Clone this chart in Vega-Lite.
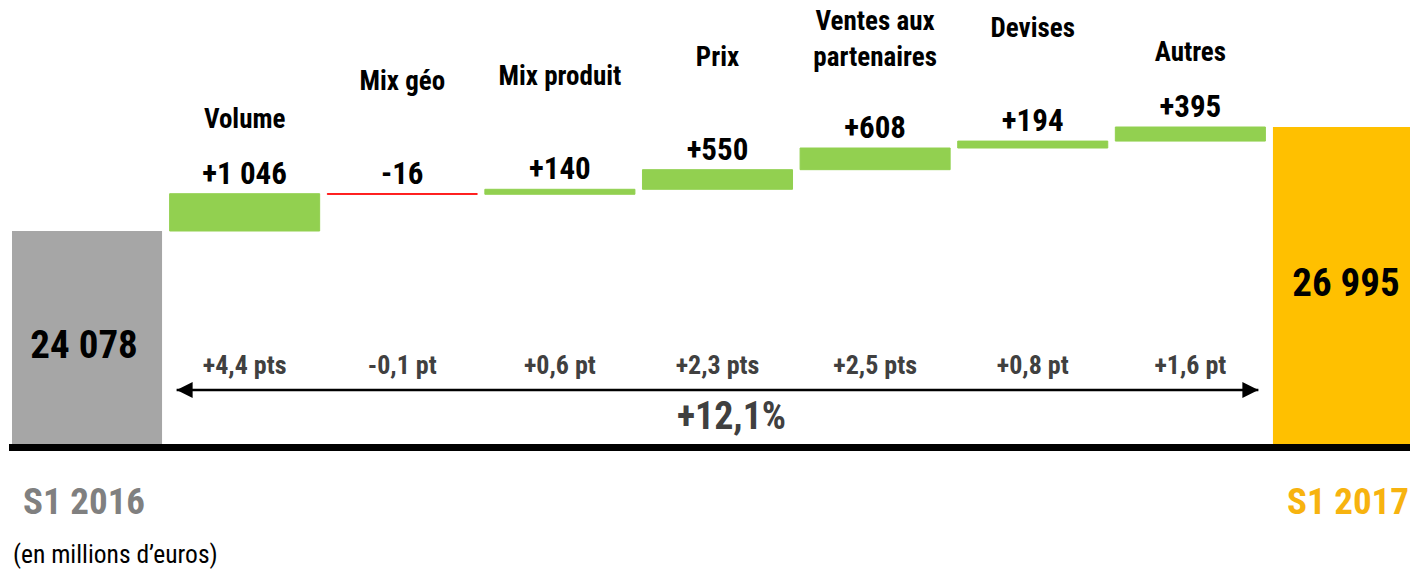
{
  "$schema": "https://vega.github.io/schema/vega-lite/v6.json",
  "width": 1410,
  "height": 572,
  "autosize": "none",
  "padding": 0,
  "background": "white",
  "config": {"view": {"stroke": null}, "font": "Roboto Condensed, Liberation Sans Narrow, DejaVu Sans Condensed, Liberation Sans"},
  "datasets": {
    "totals": [
      {"cat": "S1 2016", "value": 24078, "label": "24 078", "kind": "start"},
      {"cat": "S1 2017", "value": 26995, "label": "26 995", "kind": "end"}
    ],
    "steps": [
      {"cat": "Volume", "name": ["Volume"], "start": 24078, "end": 25124, "label": "+1 046", "pct": "+4,4 pts", "kind": "up", "row": "low"},
      {"cat": "Mix géo", "name": ["Mix géo"], "start": 25124, "end": 25108, "label": "-16", "pct": "-0,1 pt", "kind": "down", "row": "high"},
      {"cat": "Mix produit", "name": ["Mix produit"], "start": 25108, "end": 25248, "label": "+140", "pct": "+0,6 pt", "kind": "up", "row": "high"},
      {"cat": "Prix", "name": ["Prix"], "start": 25248, "end": 25798, "label": "+550", "pct": "+2,3 pts", "kind": "up", "row": "high"},
      {"cat": "Ventes aux partenaires", "name": ["Ventes aux", "partenaires"], "start": 25798, "end": 26406, "label": "+608", "pct": "+2,5 pts", "kind": "up", "row": "double"},
      {"cat": "Devises", "name": ["Devises"], "start": 26406, "end": 26600, "label": "+194", "pct": "+0,8 pt", "kind": "up", "row": "high"},
      {"cat": "Autres", "name": ["Autres"], "start": 26600, "end": 26995, "label": "+395", "pct": "+1,6 pt", "kind": "up", "row": "low"}
    ]
  },
  "layer": [
    {
      "data": {"name": "totals"},
      "mark": {"type": "bar"},
      "encoding": {
        "x": {"field": "cat", "type": "nominal", "axis": null, "sort": null,
              "scale": {"domain": ["S1 2016", "Volume", "Mix géo", "Mix produit", "Prix", "Ventes aux partenaires", "Devises", "Autres", "S1 2017"],
                        "range": [12, 1423], "paddingInner": 0.048, "paddingOuter": 0}},
        "y": {"field": "value", "type": "quantitative", "axis": null, "scale": {"domain": [14514, 30557], "nice": false, "zero": false}},
        "y2": {"datum": 18100},
        "color": {"field": "kind", "type": "nominal", "legend": null,
                  "scale": {"domain": ["start", "up", "down", "end"], "range": ["#A6A6A6", "#92D050", "#FF0000", "#FFC000"]}}
      }
    },
    {
      "data": {"name": "steps"},
      "mark": {"type": "bar", "strokeWidth": 1},
      "encoding": {
        "x": {"field": "cat", "type": "nominal"},
        "y": {"field": "start", "type": "quantitative"},
        "y2": {"field": "end"},
        "color": {"field": "kind", "type": "nominal", "legend": null},
        "stroke": {"field": "kind", "type": "nominal", "legend": null,
                   "scale": {"domain": ["start", "up", "down", "end"], "range": ["#A6A6A6", "#92D050", "#FF0000", "#FFC000"]}}
      }
    },
    {
      "data": {"values": [{}]},
      "mark": {"type": "rule", "color": "#000000", "strokeWidth": 7, "xOffset": -3},
      "encoding": {
        "x": {"datum": "S1 2016", "type": "nominal", "bandPosition": 0},
        "x2": {"datum": "S1 2017", "bandPosition": 1},
        "y": {"datum": 18006, "type": "quantitative"}
      }
    },
    {
      "data": {"name": "steps"},
      "mark": {"type": "text", "fontSize": 31, "fontWeight": "bold", "color": "#000000", "baseline": "middle", "dy": -19},
      "encoding": {
        "x": {"field": "cat", "type": "nominal"},
        "y": {"field": "end", "type": "quantitative"},
        "text": {"field": "label"}
      }
    },
    {
      "data": {"name": "steps"},
      "transform": [{"filter": "datum.row == 'low'"}],
      "mark": {"type": "text", "fontSize": 27, "fontWeight": "bold", "color": "#000000", "baseline": "middle", "dy": -74, "lineHeight": 36},
      "encoding": {
        "x": {"field": "cat", "type": "nominal"},
        "y": {"field": "end", "type": "quantitative"},
        "text": {"field": "name"}
      }
    },
    {
      "data": {"name": "steps"},
      "transform": [{"filter": "datum.row == 'high'"}],
      "mark": {"type": "text", "fontSize": 27, "fontWeight": "bold", "color": "#000000", "baseline": "middle", "dy": -112, "lineHeight": 36},
      "encoding": {
        "x": {"field": "cat", "type": "nominal"},
        "y": {"field": "end", "type": "quantitative"},
        "text": {"field": "name"}
      }
    },
    {
      "data": {"name": "steps"},
      "transform": [{"filter": "datum.row == 'double'"}],
      "mark": {"type": "text", "fontSize": 27, "fontWeight": "bold", "color": "#000000", "baseline": "middle", "dy": -126, "lineHeight": 36},
      "encoding": {
        "x": {"field": "cat", "type": "nominal"},
        "y": {"field": "end", "type": "quantitative"},
        "text": {"field": "name"}
      }
    },
    {
      "data": {"name": "steps"},
      "mark": {"type": "text", "fontSize": 26, "fontWeight": "bold", "color": "#404040", "baseline": "middle"},
      "encoding": {
        "x": {"field": "cat", "type": "nominal"},
        "y": {"datum": 20300, "type": "quantitative"},
        "text": {"field": "pct"}
      }
    },
    {
      "data": {"values": [{}]},
      "mark": {"type": "rule", "color": "#000000", "strokeWidth": 2.5, "xOffset": 7, "x2Offset": -7},
      "encoding": {
        "x": {"datum": "Volume", "type": "nominal", "bandPosition": 0},
        "x2": {"datum": "Autres", "bandPosition": 1},
        "y": {"datum": 19618, "type": "quantitative"}
      }
    },
    {
      "data": {"values": [{}]},
      "mark": {"type": "point", "shape": "M1,-1L-1,0L1,1Z", "filled": true, "opacity": 1, "size": 256, "color": "#000000", "xOffset": 15},
      "encoding": {
        "x": {"datum": "Volume", "type": "nominal", "bandPosition": 0},
        "y": {"datum": 19618, "type": "quantitative"}
      }
    },
    {
      "data": {"values": [{}]},
      "mark": {"type": "point", "shape": "M-1,-1L1,0L-1,1Z", "filled": true, "opacity": 1, "size": 256, "color": "#000000", "xOffset": -15},
      "encoding": {
        "x": {"datum": "Autres", "type": "nominal", "bandPosition": 1},
        "y": {"datum": 19618, "type": "quantitative"}
      }
    },
    {
      "data": {"values": [{"text": "+12,1%"}]},
      "mark": {"type": "text", "fontSize": 38, "fontWeight": "bold", "color": "#404040", "baseline": "middle", "dx": 14},
      "encoding": {
        "x": {"datum": "Prix", "type": "nominal"},
        "y": {"datum": 18833, "type": "quantitative"},
        "text": {"field": "text"}
      }
    },
    {
      "data": {"name": "totals"},
      "transform": [{"filter": "datum.kind == 'start'"}, {"calculate": "(datum.value + 18100) / 2", "as": "mid"}],
      "mark": {"type": "text", "fontSize": 39, "fontWeight": "bold", "color": "#000000", "baseline": "middle", "dx": -3, "dy": 8},
      "encoding": {
        "x": {"field": "cat", "type": "nominal"},
        "y": {"field": "mid", "type": "quantitative"},
        "text": {"field": "label"}
      }
    },
    {
      "data": {"name": "totals"},
      "transform": [{"filter": "datum.kind == 'end'"}, {"calculate": "(datum.value + 18100) / 2", "as": "mid"}],
      "mark": {"type": "text", "fontSize": 39, "fontWeight": "bold", "color": "#000000", "baseline": "middle", "dx": -2, "dy": -2},
      "encoding": {
        "x": {"field": "cat", "type": "nominal"},
        "y": {"field": "mid", "type": "quantitative"},
        "text": {"field": "label"}
      }
    },
    {
      "data": {"name": "totals"},
      "transform": [{"filter": "datum.kind == 'start'"}],
      "mark": {"type": "text", "fontSize": 37, "fontWeight": "bold", "color": "#808080", "baseline": "middle", "dx": -3},
      "encoding": {
        "x": {"field": "cat", "type": "nominal"},
        "y": {"datum": 16463, "type": "quantitative"},
        "text": {"field": "cat"}
      }
    },
    {
      "data": {"name": "totals"},
      "transform": [{"filter": "datum.kind == 'end'"}],
      "mark": {"type": "text", "fontSize": 37, "fontWeight": "bold", "color": "#F7B30F", "baseline": "middle"},
      "encoding": {
        "x": {"field": "cat", "type": "nominal"},
        "y": {"datum": 16463, "type": "quantitative"},
        "text": {"field": "cat"}
      }
    },
    {
      "data": {"values": [{"text": "(en millions d’euros)"}]},
      "mark": {"type": "text", "fontSize": 25.5, "color": "#000000", "baseline": "middle", "align": "left", "dx": 1},
      "encoding": {
        "x": {"datum": "S1 2016", "type": "nominal", "bandPosition": 0},
        "y": {"datum": 14990, "type": "quantitative"},
        "text": {"field": "text"}
      }
    }
  ]
}
